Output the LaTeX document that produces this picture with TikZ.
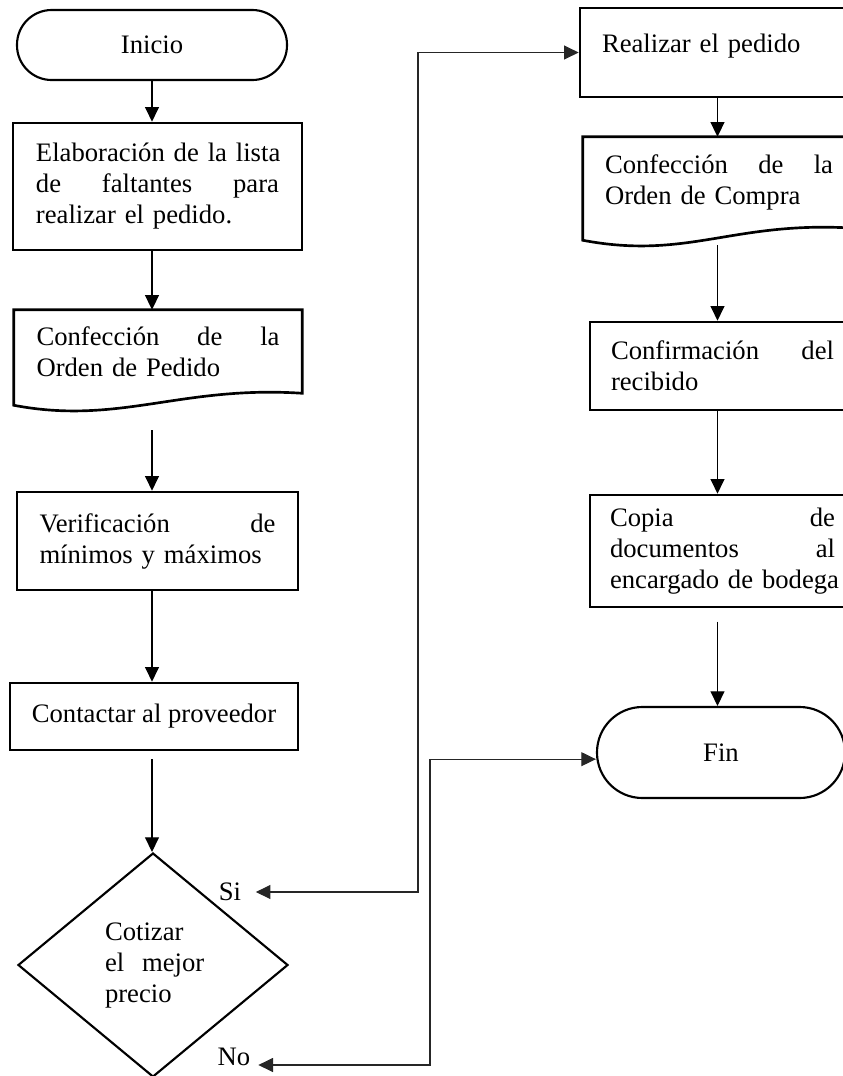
\documentclass[tikz,border=0pt]{standalone}
\usepackage{fontspec}
\setmainfont{Liberation Serif}
\usetikzlibrary{arrows.meta,shapes.geometric}
\begin{document}
\begin{tikzpicture}[x=0.75pt,y=-0.75pt,>={Triangle[length=11pt,width=10.5pt]},
    every node/.style={font=\fontsize{20}{23.25}\selectfont},
    terminal/.style={draw,line width=1.6pt,rectangle,rounded corners=26pt,inner sep=0pt},
    proceso/.style={draw,line width=2pt,align=left,inner sep=0pt},
    documento/.style={align=left,inner sep=0pt},
    decision/.style={draw,diamond,line width=1.6pt,align=left,inner sep=0pt},
    flecha/.style={->,line width=0.8pt},
    enlace/.style={<->,line width=0.8pt,black!85}]
  \useasboundingbox (0,0) rectangle (843,1076);
  \clip (0,0) rectangle (843,1076);
  % columna izquierda
  \node[terminal,minimum width=202.5pt,minimum height=52.5pt] (inicio) at (152,45) {Inicio};
  \node[proceso,minimum width=216.75pt,minimum height=95.25pt,text width=182.25pt] (lista) at (157.5,186.5)
    {Elaboración~de~la~lista\\ de \hfill faltantes \hfill para\\ realizar el pedido.};
  \node[documento,minimum width=216pt,minimum height=62.25pt,text width=182.25pt] (ordenped) at (158,351.5)
    {Confección \hfill de \hfill la\\ Orden de Pedido};
  \draw[line width=2pt] (ordenped.south east) -- (ordenped.north east) -- (ordenped.north west)
    -- ([yshift=-9pt]ordenped.south west) .. controls +(106,20) and +(-122,-8) .. (ordenped.south east) -- cycle;
  \node[proceso,minimum width=210.75pt,minimum height=73.5pt,text width=177pt] (verif) at (157.5,541)
    {Verificación \hfill de\\ mínimos y máximos};
  \node[proceso,minimum width=216pt,minimum height=50.25pt] (contacto) at (154,716.5) {Contactar al proveedor};
  \node[decision,minimum width=202.5pt,minimum height=168pt,text width=72pt] (cotizar) at (153,965)
    {Cotizar\\ el~~mejor\\ precio};
  \node (si) at (230,892) {Si};
  \node (no) at (234,1057) {No};
  % columna derecha
  \node[proceso,minimum width=206.25pt,minimum height=66.75pt,text width=173.25pt,text depth=14pt] (realizar) at (717.5,52.5)
    {Realizar el pedido};
  \node[documento,minimum width=204pt,minimum height=68.25pt,text width=171pt] (ordencom) at (719,182.5)
    {Confección \hfill de \hfill la\\ Orden de Compra};
  \draw[line width=2pt] (ordencom.south east) -- (ordencom.north east) -- (ordencom.north west)
    -- ([yshift=-9pt]ordencom.south west) .. controls +(106,20) and +(-122,-8) .. (ordencom.south east) -- cycle;
  \node[proceso,minimum width=198.75pt,minimum height=66pt,text width=167.25pt] (confirm) at (722.5,366)
    {Confirmación \hfill del\\ recibido};
  \node[proceso,minimum width=198.75pt,minimum height=84pt,text width=168.75pt] (copia) at (722.5,551)
    {Copia \hfill de\\ documentos \hfill al\\ encargado~de~bodega};
  \node[terminal,rounded corners=34pt,minimum width=186pt,minimum height=68.25pt] (fin) at (721,752.5) {Fin};
  % flechas
  \foreach \a/\b/\col/\gap in {inicio/lista/inicio/0pt, lista/ordenped/inicio/0pt,
      ordenped/verif/inicio/27.75pt, verif/contacto/inicio/0pt, contacto/cotizar/inicio/6pt,
      realizar/ordencom/realizar/0pt, ordencom/confirm/realizar/12.75pt,
      confirm/copia/realizar/0pt, copia/fin/realizar/10pt}
    \draw[flecha,shorten <=\gap] (\a.south -| \col) -- (\b.north -| \col);
  \coordinate (sicodo) at (418,892);
  \coordinate (nocodo) at (430,1065);
  \draw[enlace,shorten <=7.5pt] (si.east) -- (sicodo) |- (realizar.west);
  \draw[enlace,shorten <=2.5pt] (no.east |- nocodo) -- (nocodo) |- ([yshift=-5pt]fin.west);
\end{tikzpicture}
\end{document}
